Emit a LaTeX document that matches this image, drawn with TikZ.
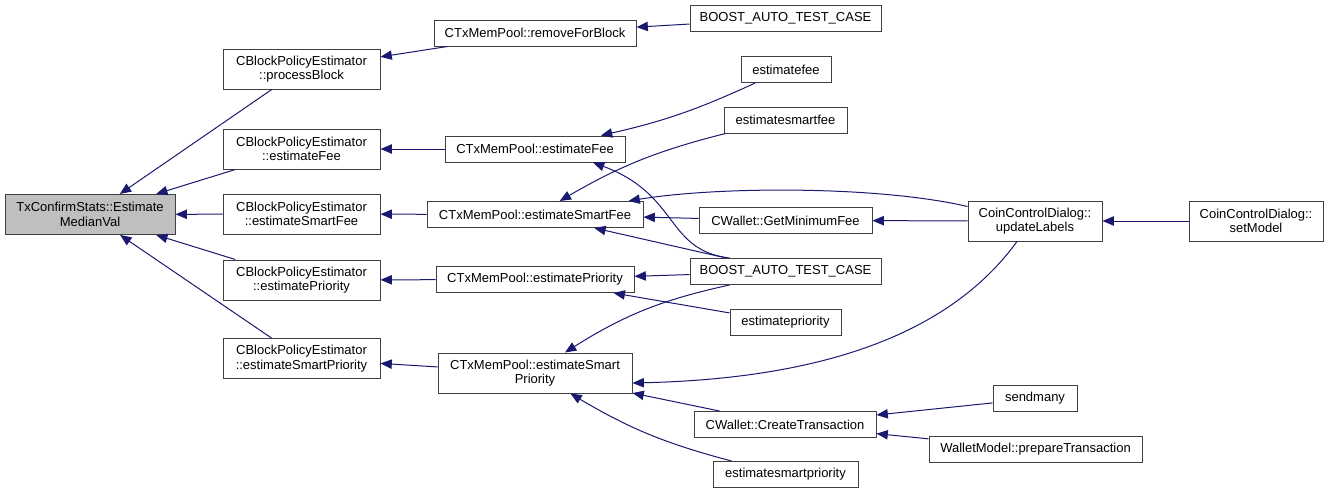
\documentclass[tikz,border=0pt]{standalone}
\usepackage{fontspec}
\setmainfont{Liberation Sans}
\usetikzlibrary{arrows.meta,calc}
\definecolor{edgecol}{RGB}{25,25,112}
\definecolor{boxcol}{RGB}{64,64,64}
\definecolor{rootfill}{RGB}{191,191,191}
\tikzset{
  box/.style={draw=boxcol, line width=0.75pt, fill=white, inner sep=0pt,
    minimum height=19.5pt, align=center, font=\fontsize{9.75}{10.75}\selectfont},
  tall/.style={minimum height=30pt},
  call/.style={draw=edgecol, line width=0.75pt, arrows={Triangle[length=8.5pt,width=7pt]-}},
}
\begin{document}
\begin{tikzpicture}[x=0.75pt,y=-0.75pt]
\useasboundingbox (0,0) rectangle (1328,493);

% first column
\node[box, tall, fill=rootfill, minimum width=127.5pt] (root) at (90,214.5) {TxConfirmStats::Estimate\\MedianVal};

% policy estimator
\node[box, tall, minimum width=117.75pt] (pb) at (301.5,69) {CBlockPolicyEstimator\\::processBlock};
\node[box, tall, minimum width=117.75pt] (bef) at (301.5,149) {CBlockPolicyEstimator\\::estimateFee};
\node[box, tall, minimum width=117.75pt] (besf) at (301.5,214) {CBlockPolicyEstimator\\::estimateSmartFee};
\node[box, tall, minimum width=117.75pt] (bep) at (301.5,280) {CBlockPolicyEstimator\\::estimatePriority};
\node[box, tall, minimum width=117.75pt] (besp) at (301.5,358.5) {CBlockPolicyEstimator\\::estimateSmartPriority};

% mempool
\node[box, minimum width=151.5pt] (rfb) at (535,33) {CTxMemPool::removeForBlock};
\node[box, minimum width=135pt] (mef) at (535,149) {CTxMemPool::estimateFee};
\node[box, minimum width=162pt] (msf) at (535,214.5) {CTxMemPool::estimateSmartFee};
\node[box, minimum width=148.5pt] (mep) at (535,279.5) {CTxMemPool::estimatePriority};
\node[box, tall, minimum width=145.5pt] (msp) at (535,373) {CTxMemPool::estimateSmart\\Priority};

% callers
\node[box, minimum width=143.25pt] (boostA) at (785.5,18.5) {BOOST\_AUTO\_TEST\_CASE};
\node[box, minimum width=67.5pt] (efee) at (786,69.5) {estimatefee};
\node[box, minimum width=92.25pt] (esfee) at (785.5,120) {estimatesmartfee};
\node[box, minimum width=129.75pt] (gmf) at (785.5,220.5) {CWallet::GetMinimumFee};
\node[box, minimum width=143.25pt] (boostB) at (785.5,271.5) {BOOST\_AUTO\_TEST\_CASE};
\node[box, minimum width=83.25pt] (eprio) at (785.5,322.5) {estimatepriority};
\node[box, minimum width=136.5pt] (ct) at (785,424.5) {CWallet::CreateTransaction};
\node[box, minimum width=108.75pt] (esp) at (785.5,474.5) {estimatesmartpriority};

\node[box, tall, minimum width=100.5pt] (ul) at (1035,221) {CoinControlDialog::\\updateLabels};
\node[box, minimum width=63pt] (sendmany) at (1035,398.5) {sendmany};
\node[box, minimum width=159.75pt] (wmpt) at (1035.5,449.5) {WalletModel::prepareTransaction};
\node[box, tall, minimum width=100.5pt] (sm) at (1256,221) {CoinControlDialog::\\setModel};

% calls
\draw[call] (root) -- (pb);
\draw[call] (root) -- (bef);
\draw[call] (root) -- (besf);
\draw[call] (root) -- (bep);
\draw[call] (root) -- (besp);
\draw[call] (pb) -- (rfb);
\draw[call] (rfb) -- (boostA);
\draw[call] (bef) -- (mef);
\draw[call] (besf) -- (msf);
\draw[call] (bep) -- (mep);
\draw[call] (besp) -- (msp);
\draw[call] (mef) to[bend right=6] (efee);
\draw[call] ($(mef.south)+(58,0)$) .. controls (680,195) and (665,250) .. ($(boostB.north west)+(40,0)$);
\draw[call] (msf) to[bend left=8] (esfee);
\draw[call] ($(msf.north east)+(-15,0)$) .. controls (720,186) and (880,186) .. ($(ul.north west)+(0,6)$);
\draw[call] (msf) -- (gmf);
\draw[call] (msf) -- (boostB);
\draw[call] (gmf) -- (ul);
\draw[call] (ul) -- (sm);
\draw[call] (mep) -- (boostB);
\draw[call] (mep) -- (eprio);
\draw[call] (msp) to[bend left=10] ($(boostB.south west)+(40,0)$);
\draw[call] ($(msp.east)+(0,10)$) .. controls (850,378) and (960,320) .. ($(ul.south)+(-18,0)$);
\draw[call] (msp) -- (ct);
\draw[call] (msp) to[bend right=8] (esp);
\draw[call] (ct) -- (sendmany);
\draw[call] (ct) -- (wmpt);
\end{tikzpicture}
\end{document}
